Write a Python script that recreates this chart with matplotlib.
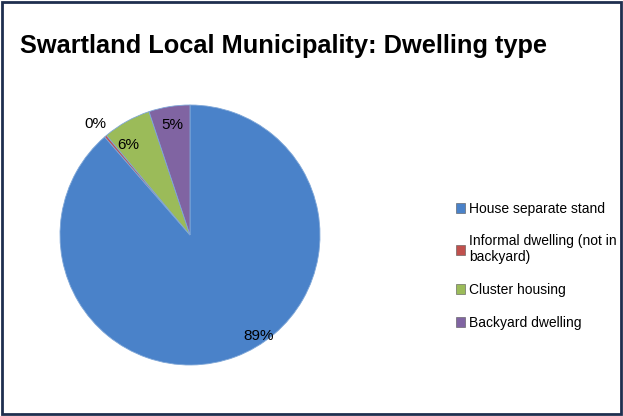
import matplotlib
matplotlib.use('Agg')
from matplotlib import pyplot as plt
from matplotlib.patches import Rectangle
import numpy as np

plt.rcParams['font.family'] = ['Liberation Sans Narrow', 'Liberation Sans', 'DejaVu Sans']

title = 'Swartland Local Municipality: Dwelling type'
categories = ['House separate stand', 'Informal dwelling (not in\nbackyard)',
              'Cluster housing', 'Backyard dwelling']
shares = [88.6, 0.3, 6.0, 5.1]
colors = ['#4A82C9', '#C0504D', '#9BBB59', '#8064A2']

W, H, dpi = 623, 416, 100
fig = plt.figure(figsize=(W / dpi, H / dpi), dpi=dpi)

# frame round the chart
fig.patches.append(Rectangle((0.003, 0.004), 0.994, 0.99, transform=fig.transFigure,
                             fill=False, edgecolor='#1F2F4F', linewidth=2))

fig.text(20 / W, 1 - 46 / H, title, fontsize=18.3, fontweight='bold', va='center', ha='left')

# pie axes: centre about (190, 235) px, radius 130 px
cx, cy, r = 190, 235, 130
ax = fig.add_axes([(cx - r) / W, (H - cy - r) / H, 2 * r / W, 2 * r / H])
wedges, texts, autotexts = ax.pie(shares, colors=colors, startangle=90, counterclock=False,
                                  autopct='%.0f%%', pctdistance=0.86,
                                  wedgeprops=dict(edgecolor='#7FA7D8', linewidth=0.6),
                                  textprops=dict(fontsize=11))
ax.set_xlim(-1, 1)
ax.set_ylim(-1, 1)
ax.set_aspect('equal')

# excel style label placement: (angle offset in deg, radius) per slice
def place(i, ang, rad):
    autotexts[i].set_position((rad * np.cos(np.deg2rad(ang)), rad * np.sin(np.deg2rad(ang))))

mid = [(w.theta1 + w.theta2) / 2 for w in wedges]
place(0, -56, 0.94)
place(1, mid[1], 1.12)
place(2, mid[2] + 5, 0.84)

handles = [Rectangle((0, 0), 1, 1, facecolor=c, edgecolor='#555555', linewidth=0.4) for c in colors]
fig.legend(handles, categories, loc='upper left', bbox_to_anchor=(443 / W, 1 - 189 / H),
           frameon=False, fontsize=10, handlelength=0.7, handleheight=0.7,
           handletextpad=0.3, labelspacing=1.35)

fig.savefig('out.png', dpi=dpi)
